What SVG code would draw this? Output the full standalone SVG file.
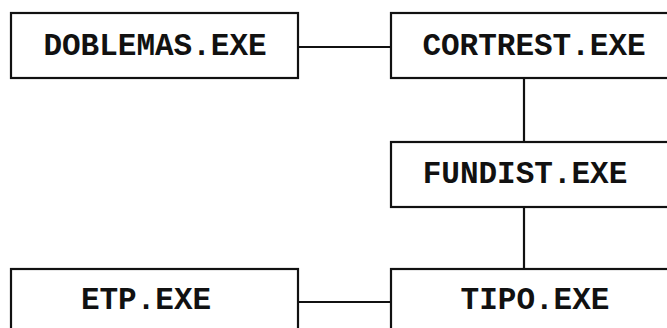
<svg xmlns="http://www.w3.org/2000/svg" width="667" height="328" viewBox="0 0 667 328">
  <style>
    .box { fill: #ffffff; stroke: #111111; stroke-width: 2.2; }
    .lbl { font-family: "Liberation Mono", "Courier New", monospace; font-weight: bold; font-size: 31px; fill: #111111; text-anchor: middle; }
    .wire { stroke: #111111; stroke-width: 2.2; fill: none; }
  </style>
  <rect width="667" height="328" fill="#ffffff"/>
  <g id="connectors">
    <line class="wire" x1="298" y1="47" x2="391" y2="47"/>
    <line class="wire" x1="524" y1="78" x2="524" y2="142"/>
    <line class="wire" x1="524" y1="207" x2="524" y2="269"/>
    <line class="wire" x1="298" y1="302" x2="391" y2="302"/>
  </g>
  <g id="doblemas">
    <rect class="box" x="11" y="13" width="287" height="65"/>
    <text class="lbl" x="155" y="55">DOBLEMAS.EXE</text>
  </g>
  <g id="cortrest">
    <rect class="box" x="391" y="13" width="300" height="65"/>
    <text class="lbl" x="534" y="55">CORTREST.EXE</text>
  </g>
  <g id="fundist">
    <rect class="box" x="391" y="142" width="300" height="65"/>
    <text class="lbl" x="525" y="183">FUNDIST.EXE</text>
  </g>
  <g id="etp">
    <rect class="box" x="11" y="269" width="287" height="80"/>
    <text class="lbl" x="146" y="309">ETP.EXE</text>
  </g>
  <g id="tipo">
    <rect class="box" x="391" y="269" width="300" height="80"/>
    <text class="lbl" x="535" y="309">TIPO.EXE</text>
  </g>
</svg>
